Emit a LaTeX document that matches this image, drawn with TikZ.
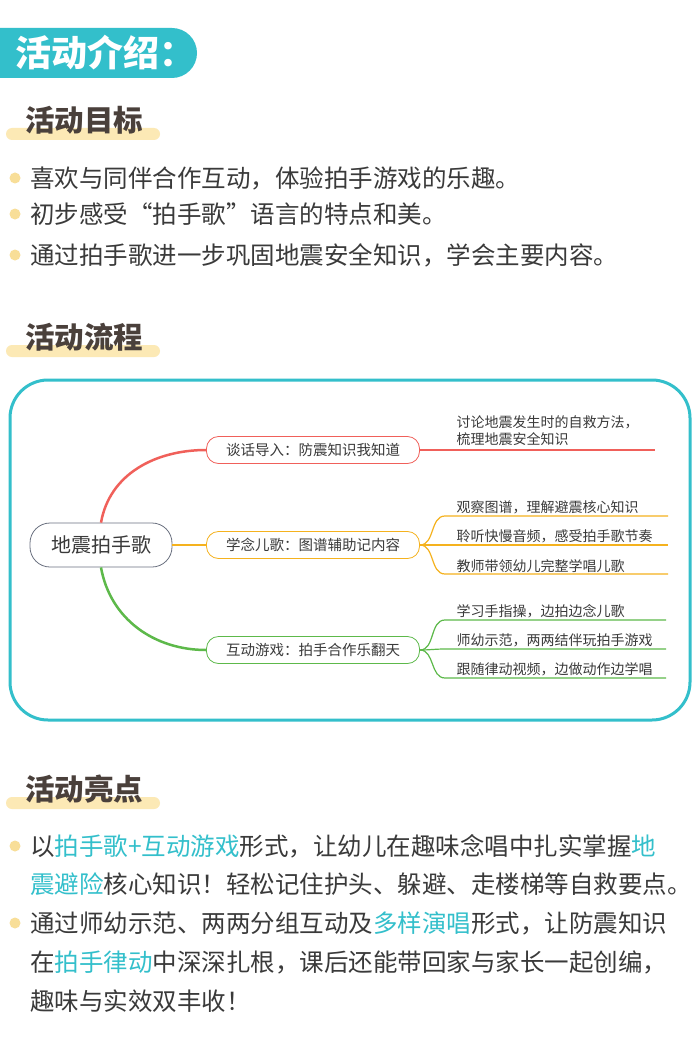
\documentclass[tikz,border=0pt]{standalone}
\usepackage{fontspec}
\setmainfont{Noto Sans CJK SC}
\usetikzlibrary{positioning}
\definecolor{teal}{HTML}{33BFCB}
\definecolor{hlyellow}{HTML}{FCE9B5}
\definecolor{dotyellow}{HTML}{F8DE98}
\definecolor{ink}{HTML}{3A3A3A}
\definecolor{headink}{HTML}{4A403B}
\definecolor{redb}{HTML}{F0605A}
\definecolor{orangeb}{HTML}{F5B21E}
\definecolor{greenb}{HTML}{5DB94A}
\definecolor{grayb}{HTML}{6B7180}
\newcommand{\hl}[1]{\textcolor{teal}{#1}}
\tikzset{%
  heading/.style={anchor=west, inner sep=0pt, text=headink, font=\fontsize{29.5}{34}\selectfont\bfseries},
  bodyline/.style={anchor=west, inner sep=0pt, text=ink, font=\fontsize{24.5}{28}\selectfont},
  dotmark/.style={circle, fill=dotyellow, inner sep=0pt, minimum size=11pt},
  branch/.style={draw, thick, rounded corners=12pt, minimum width=213pt, minimum height=27pt, inner sep=0pt, fill=white, text=ink, font=\fontsize{14.5}{17}\selectfont},
  leaf/.style={anchor=south west, inner sep=1.5pt, text=ink, font=\fontsize{14}{16.5}\selectfont, align=left},
  link/.style={line width=1.2pt}
}
\begin{document}
\begin{tikzpicture}[x=1pt, y=-1pt]
\useasboundingbox[fill=white] (0,0) rectangle (700,1043);

% header pill
\fill[teal, rounded corners=25pt] (-40,28) rectangle (197,78);
\node[anchor=west, inner sep=0pt, text=white, font=\fontsize{36}{40}\selectfont\bfseries] (title) at (15,53) {活动介绍：};

% section 1
\fill[hlyellow, rounded corners=6pt] (6,128) rectangle (160,140);
\node[heading] (h1) at (25,120) {活动目标};
\foreach \y/\t [count=\i] in {178/{喜欢与同伴合作互动，体验拍手游戏的乐趣。},
  214/{初步感受“拍手歌”语言的特点和美。},
  255/{通过拍手歌进一步巩固地震安全知识，学会主要内容。}} {
  \node[dotmark] (d\i) at (15,\y) {};
  \node[bodyline] (g\i) at (30,\y) {\t};
}

% section 2
\fill[hlyellow, rounded corners=6pt] (6,345) rectangle (160,357);
\node[heading] (h2) at (25,337) {活动流程};

% mind map
\draw[teal, line width=3pt, rounded corners=38pt] (10,380) rectangle (690,720);
\node[draw=grayb, thick, rounded corners=20pt, minimum width=142pt, minimum height=44pt, fill=white, text=ink, font=\fontsize{20}{24}\selectfont] (root) at (101,545) {地震拍手歌};
\node[branch, draw=redb] (talk) at (313,450) {谈话导入：防震知识我知道};
\node[branch, draw=orangeb] (song) at (313,545) {学念儿歌：图谱辅助记内容};
\node[branch, draw=greenb] (game) at (313,650) {互动游戏：拍手合作乐翻天};

\draw[link, redb, line width=2.5pt] (root.north) to[out=80, in=180] (talk.west);
\draw[link, orangeb, line width=2.5pt] (root.east) -- (song.west);
\draw[link, greenb, line width=2.5pt] (root.south) to[out=-80, in=180] (game.west);

% red leaf
\coordinate (r1) at (655,450);
\draw[link, redb] (talk.east) -- (r1);
\node[leaf] (rt1) at (455,447) {讨论地震发生时的自救方法，\\梳理地震安全知识};

% orange leaves
\foreach \y/\t [count=\i] in {516/{观察图谱，理解避震核心知识},
  545/{聆听快慢音频，感受拍手歌节奏},
  574/{教师带领幼儿完整学唱儿歌}} {
  \coordinate (os\i) at (445,\y);
  \coordinate (oe\i) at (668,\y);
  \draw[link, orangeb] (song.east) to[out=0, in=180] (os\i) -- (oe\i);
  \node[leaf] (ot\i) at (455,\y) {\t};
}

% green leaves
\foreach \y/\t [count=\i] in {620/{学习手指操，边拍边念儿歌},
  649/{师幼示范，两两结伴玩拍手游戏},
  678/{跟随律动视频，边做动作边学唱}} {
  \coordinate (gs\i) at (445,\y);
  \coordinate (ge\i) at (666,\y);
  \draw[link, greenb] (game.east) to[out=0, in=180] (gs\i) -- (ge\i);
  \node[leaf] (gt\i) at (455,\y) {\t};
}

% section 3
\fill[hlyellow, rounded corners=6pt] (6,797) rectangle (160,809);
\node[heading] (h3) at (25,789) {活动亮点};
\node[dotmark] (p1) at (15,846) {};
\node[bodyline] (l1) at (30,846) {以\hl{拍手歌+互动游戏}形式，让幼儿在趣味念唱中扎实掌握\hl{地}};
\node[bodyline] (l2) at (30,884) {\hl{震避险}核心知识！轻松记住护头、躲避、走楼梯等自救要点。};
\node[dotmark] (p2) at (15,923) {};
\node[bodyline] (l3) at (30,923) {通过师幼示范、两两分组互动及\hl{多样演唱}形式，让防震知识};
\node[bodyline] (l4) at (30,962) {在\hl{拍手律动}中深深扎根，课后还能带回家与家长一起创编，};
\node[bodyline] (l5) at (30,1001) {趣味与实效双丰收！};
\end{tikzpicture}
\end{document}
